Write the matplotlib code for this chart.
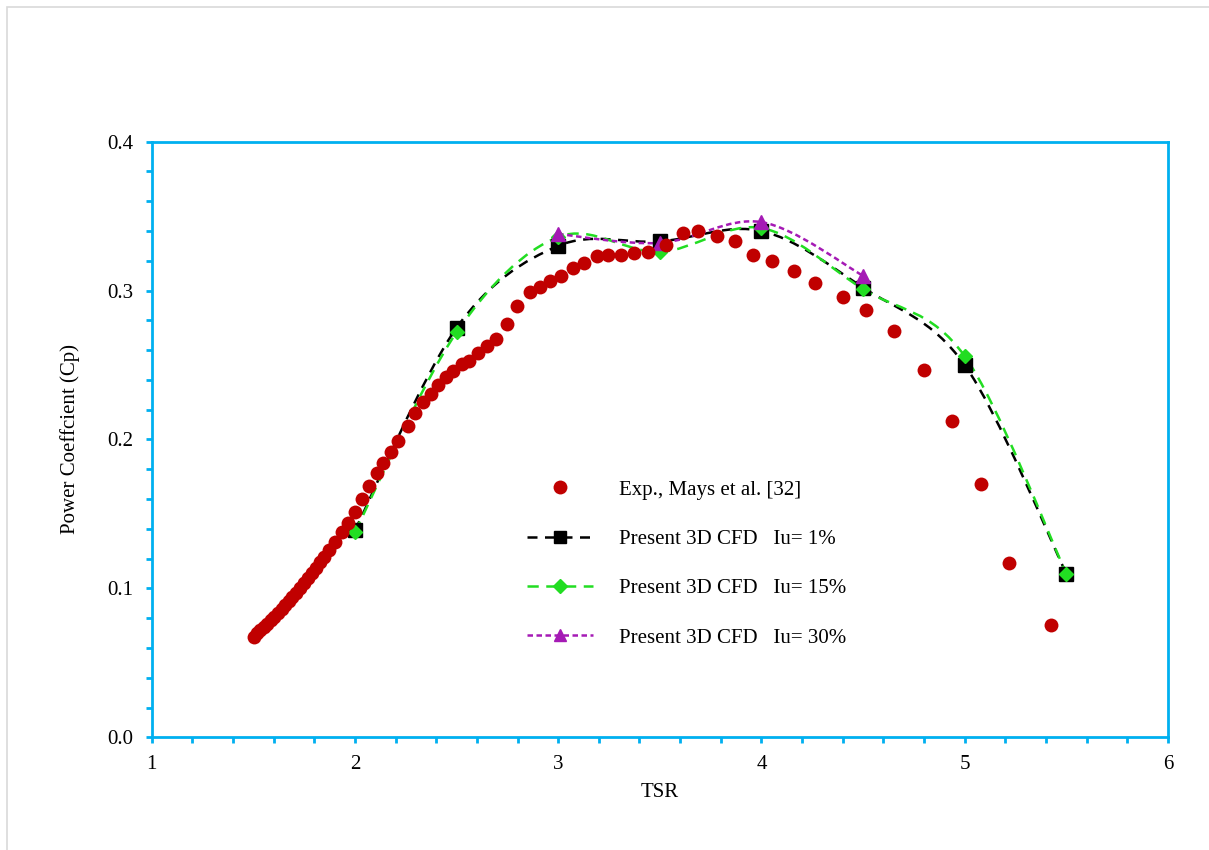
import matplotlib
matplotlib.use("Agg")
import matplotlib.pyplot as plt
from matplotlib.path import Path
from matplotlib.patches import PathPatch, Rectangle
from matplotlib.lines import Line2D
from matplotlib.ticker import MultipleLocator
import numpy as np

plt.rcParams['font.family'] = ['Liberation Serif', 'DejaVu Serif']

# ---------------- data ----------------
exp_tsr = [1.503, 1.518, 1.533, 1.552, 1.567, 1.587, 1.602, 1.621, 1.641, 1.656,
           1.675, 1.690, 1.710, 1.729, 1.749, 1.769, 1.788, 1.808, 1.828, 1.847,
           1.872, 1.902, 1.936, 1.966, 2.000, 2.034, 2.069, 2.108, 2.138, 2.177,
           2.212, 2.261, 2.295, 2.334, 2.374, 2.408, 2.448, 2.482, 2.526, 2.561,
           2.605, 2.650, 2.694, 2.748, 2.797, 2.861, 2.910, 2.959, 3.013, 3.072,
           3.126, 3.190, 3.244, 3.308, 3.372, 3.441, 3.530, 3.613, 3.687, 3.781,
           3.869, 3.958, 4.051, 4.159, 4.263, 4.400, 4.513, 4.651, 4.799, 4.937,
           5.079, 5.217, 5.424]
exp_cp = [0.0674, 0.0700, 0.0721, 0.0741, 0.0761, 0.0788, 0.0808, 0.0835, 0.0862, 0.0888,
          0.0915, 0.0942, 0.0969, 0.1003, 0.1036, 0.1070, 0.1103, 0.1137, 0.1177, 0.1211,
          0.1258, 0.1312, 0.1379, 0.1439, 0.1513, 0.1601, 0.1688, 0.1775, 0.1842, 0.1916,
          0.1990, 0.2091, 0.2178, 0.2252, 0.2306, 0.2366, 0.2420, 0.2460, 0.2507, 0.2527,
          0.2581, 0.2628, 0.2675, 0.2776, 0.2897, 0.2991, 0.3024, 0.3064, 0.3098, 0.3152,
          0.3185, 0.3232, 0.3239, 0.3239, 0.3252, 0.3259, 0.3306, 0.3387, 0.3400, 0.3367,
          0.3333, 0.3239, 0.3199, 0.3132, 0.3051, 0.2957, 0.2870, 0.2729, 0.2467, 0.2124,
          0.1701, 0.1171, 0.0754]

cfd_tsr = [2.0, 2.5, 3.0, 3.5, 4.0, 4.5, 5.0, 5.5]
cfd_iu1 = [0.139, 0.275, 0.330, 0.333, 0.340, 0.302, 0.250, 0.110]
cfd_iu15 = [0.138, 0.272, 0.336, 0.326, 0.342, 0.301, 0.256, 0.110]
cfd30_tsr = [3.0, 3.5, 4.0, 4.5]
cfd_iu30 = [0.338, 0.332, 0.346, 0.310]

labels = ["Exp., Mays et al. [32]",
          "Present 3D CFD   Iu= 1%",
          "Present 3D CFD   Iu= 15%",
          "Present 3D CFD   Iu= 30%"]

RED = "#C00000"
GREEN = "#22DD22"
PURPLE = "#A51AB5"
BLUE = "#00B0F0"


def smooth_path(xs, ys):
    """Excel-like smoothed line: cubic Bezier with Catmull-Rom control points."""
    P = np.column_stack([xs, ys]).astype(float)
    n = len(P)
    verts = [P[0]]
    codes = [Path.MOVETO]
    for i in range(n - 1):
        p0 = P[i - 1] if i > 0 else P[i]
        p1 = P[i]
        p2 = P[i + 1]
        p3 = P[i + 2] if i + 2 < n else P[i + 1]
        c1 = p1 + (p2 - p0) / 6.0
        c2 = p2 - (p3 - p1) / 6.0
        verts += [c1, c2, p2]
        codes += [Path.CURVE4] * 3
    return Path(verts, codes)


fig = plt.figure(figsize=(12.09, 8.5), dpi=100)
ax = fig.add_axes([0.1255, 0.1326, 0.8405, 0.7007])

# figure border (only top and left edges fall inside the picture)
fig.patches.append(Rectangle((7 / 1209, -10 / 850), 1220 / 1209, 853 / 850,
                             transform=fig.transFigure, fill=False,
                             edgecolor="#D9D9D9", linewidth=1.2))

black_ls = (0, (4, 3))
green_ls = (0, (4.5, 3))
purple_ls = (0, (2.2, 1.4))
lw = 1.8

ax.add_patch(PathPatch(smooth_path(cfd_tsr, cfd_iu1), fill=False,
                       edgecolor="black", linewidth=lw, linestyle=black_ls, zorder=3))
ax.add_patch(PathPatch(smooth_path(cfd_tsr, cfd_iu15), fill=False,
                       edgecolor=GREEN, linewidth=lw, linestyle=green_ls, zorder=3))
ax.add_patch(PathPatch(smooth_path(cfd30_tsr, cfd_iu30), fill=False,
                       edgecolor=PURPLE, linewidth=lw, linestyle=purple_ls, zorder=3))

ax.plot(cfd_tsr, cfd_iu1, linestyle="none", marker="s", markersize=9.5,
        color="black", zorder=4)
ax.plot(cfd_tsr, cfd_iu15, linestyle="none", marker="D", markersize=7.5,
        color=GREEN, zorder=5)
ax.plot(cfd30_tsr, cfd_iu30, linestyle="none", marker="^", markersize=10,
        color=PURPLE, zorder=6)
ax.plot(exp_tsr, exp_cp, linestyle="none", marker="o", markersize=10,
        color=RED, markeredgewidth=0, zorder=7)

ax.set_xlim(1, 6)
ax.set_ylim(0, 0.4)
ax.xaxis.set_major_locator(MultipleLocator(1))
ax.xaxis.set_minor_locator(MultipleLocator(0.2))
ax.yaxis.set_major_locator(MultipleLocator(0.1))
ax.yaxis.set_minor_locator(MultipleLocator(0.02))
ax.yaxis.set_major_formatter(matplotlib.ticker.FormatStrFormatter("%.1f"))

for s in ax.spines.values():
    s.set_color(BLUE)
    s.set_linewidth(2.0)
ax.tick_params(which="both", direction="out", color=BLUE, width=2.0,
               labelsize=15, labelcolor="black", top=False, right=False)
ax.tick_params(which="major", length=4, pad=9)
ax.tick_params(which="minor", length=4)

ax.set_xlabel("TSR", fontsize=15, labelpad=6)
ax.set_ylabel("Power Coeffcient (Cp)", fontsize=15, labelpad=20)

handles = [
    Line2D([], [], linestyle="none", marker="o", markersize=10, color=RED,
           markeredgewidth=0),
    Line2D([], [], linestyle=black_ls, linewidth=lw, marker="s", markersize=9,
           color="black"),
    Line2D([], [], linestyle=green_ls, linewidth=lw, marker="D", markersize=7,
           color=GREEN),
    Line2D([], [], linestyle=purple_ls, linewidth=lw, marker="^", markersize=9,
           color=PURPLE),
]
ax.legend(handles, labels, loc="upper left", bbox_to_anchor=(0.3693, 0.432),
          frameon=False, fontsize=15, handlelength=3.17, handletextpad=1.25,
          labelspacing=1.43, borderpad=0, borderaxespad=0)

fig.savefig("out.png", dpi=100)
